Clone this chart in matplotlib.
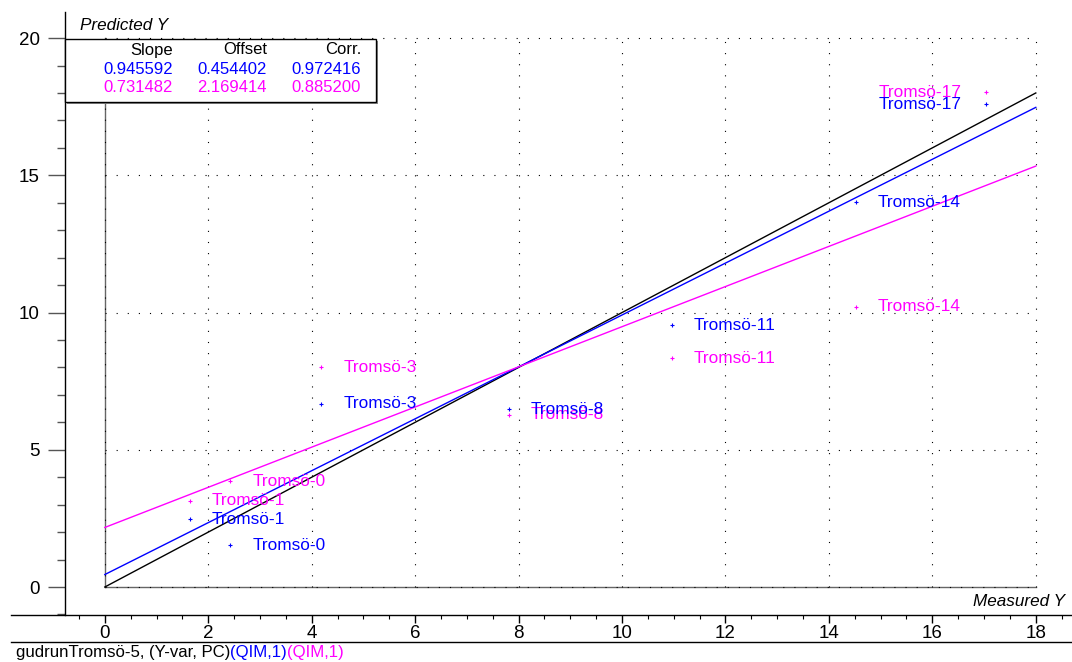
import numpy as np
import matplotlib.pyplot as plt
from matplotlib.lines import Line2D
from matplotlib.patches import Rectangle
from matplotlib.ticker import MultipleLocator

plt.rcParams['font.family'] = ['Liberation Sans', 'DejaVu Sans']

W, H = 1072, 662

# sample names and measured / predicted values
names = ['Tromsö-0', 'Tromsö-1', 'Tromsö-3', 'Tromsö-8', 'Tromsö-11', 'Tromsö-14', 'Tromsö-17']
measured = [2.42, 1.64, 4.18, 7.81, 10.96, 14.52, 17.03]
pred_qim1_blue = [1.53, 2.47, 6.67, 6.47, 9.54, 14.01, 17.58]
pred_qim1_mag = [3.86, 3.14, 8.00, 6.27, 8.33, 10.21, 18.02]

# regression statistics: slope, offset, correlation
stats_blue = [0.945592, 0.454402, 0.972416]
stats_mag = [0.731482, 2.169414, 0.885200]
stat_headers = ['Slope', 'Offset', 'Corr.']

BLUE = '#0000ff'
MAG = '#ff00ff'


def fx(px):
    return px / W


def fy(py):
    return 1 - py / H


fig = plt.figure(figsize=(W / 100, H / 100), dpi=100)
ax = fig.add_axes([fx(65), fy(615), fx(1072 - 65), (615 - 12) / H])
ax.set_xlim(-0.77, 18.70)
ax.set_ylim(-1.02, 20.95)

for s in ['top', 'right', 'bottom']:
    ax.spines[s].set_visible(False)
ax.spines['left'].set_linewidth(1.0)

ax.xaxis.set_major_locator(MultipleLocator(2))
ax.xaxis.set_minor_locator(MultipleLocator(0.5))
ax.yaxis.set_major_locator(MultipleLocator(5))
ax.yaxis.set_minor_locator(MultipleLocator(1))
ax.set_xticks(np.arange(0, 19, 2))
ax.set_yticks(np.arange(0, 21, 5))
ax.tick_params(axis='y', which='major', length=12, width=1.0, pad=6, labelsize=13.5, color='#555555')
ax.tick_params(axis='y', which='minor', length=6, width=1.0, color='#555555')
ax.tick_params(axis='x', which='major', length=6, width=1.0, pad=1, labelsize=13.5)
ax.tick_params(axis='x', which='minor', length=3, width=0.8)
ax.xaxis.set_ticks_position('bottom')
ax.yaxis.set_ticks_position('left')

# data axes at x=0 and y=0
ax.plot([0, 18], [0, 0], color='#666666', lw=1.0, zorder=1)
ax.plot([0, 0], [0, 20], color='#666666', lw=1.0, zorder=1)

# dotted grid
dots = dict(color='black', lw=0.8, dashes=(1, 9), zorder=1.5)
for gx in np.arange(0, 19, 2):
    ax.plot([gx, gx], [0, 20], **dots)
for gy in np.arange(0, 21, 5):
    ax.plot([0, 18], [gy, gy], **dots)

# target line and regression lines
xs = np.array([0, 18])
ax.plot(xs, xs, color='black', lw=1.0, zorder=2)
ax.plot(xs, stats_blue[0] * xs + stats_blue[1], color=BLUE, lw=1.0, zorder=2)
ax.plot(xs, stats_mag[0] * xs + stats_mag[1], color=MAG, lw=1.0, zorder=2)

# points and labels
for ys, col in [(pred_qim1_mag, MAG), (pred_qim1_blue, BLUE)]:
    ax.plot(measured, ys, '+', color=col, ms=3.5, mew=0.8, zorder=3)
    for name, x, y in zip(names, measured, ys):
        if x > 16.5:
            ax.annotate(name, (x, y), xytext=(-17, 0), textcoords='offset points',
                        ha='right', va='center', color=col, fontsize=12.4, zorder=3)
        else:
            ax.annotate(name, (x, y), xytext=(16, 0), textcoords='offset points',
                        ha='left', va='center', color=col, fontsize=12.4, zorder=3)

# outer horizontal axis line and bottom separator
fig.add_artist(Line2D([fx(11), 1], [fy(615), fy(615)], color='black', lw=1.0))
fig.add_artist(Line2D([fx(11), 1], [fy(642), fy(642)], color='black', lw=1.0))

# axis titles
fig.text(fx(80), fy(25), 'Predicted Y', style='italic', fontsize=12.3, ha='left', va='center')
fig.text(fx(1065), fy(602), 'Measured Y', style='italic', fontsize=12.3, ha='right', va='center')

# statistics box
fig.add_artist(Rectangle((fx(67), fy(104)), fx(376 - 65), (104 - 41) / H,
                         facecolor='#888888', edgecolor='none', zorder=4))
fig.add_artist(Rectangle((fx(65), fy(102)), fx(376 - 65), (102 - 39) / H,
                         facecolor='white', edgecolor='black', lw=1.0, zorder=5))
col_right = [173, 267, 361]
for i, head in enumerate(stat_headers):
    fig.text(fx(col_right[i]), fy(50), head, ha='right', va='center', fontsize=12, zorder=6)
    fig.text(fx(col_right[i]), fy(69), '%.6f' % stats_blue[i], ha='right', va='center',
             fontsize=12, color=BLUE, zorder=6)
    fig.text(fx(col_right[i]), fy(88), '%.6f' % stats_mag[i], ha='right', va='center',
             fontsize=12, color=MAG, zorder=6)

# footer
fig.text(fx(16), fy(653), 'gudrunTromsö-5, (Y-var, PC)', fontsize=12.1, ha='left', va='center')
fig.text(fx(230), fy(653), '(QIM,1)', fontsize=12.1, ha='left', va='center', color=BLUE)
fig.text(fx(287), fy(653), '(QIM,1)', fontsize=12.1, ha='left', va='center', color=MAG)

fig.savefig('out.png', dpi=100)
